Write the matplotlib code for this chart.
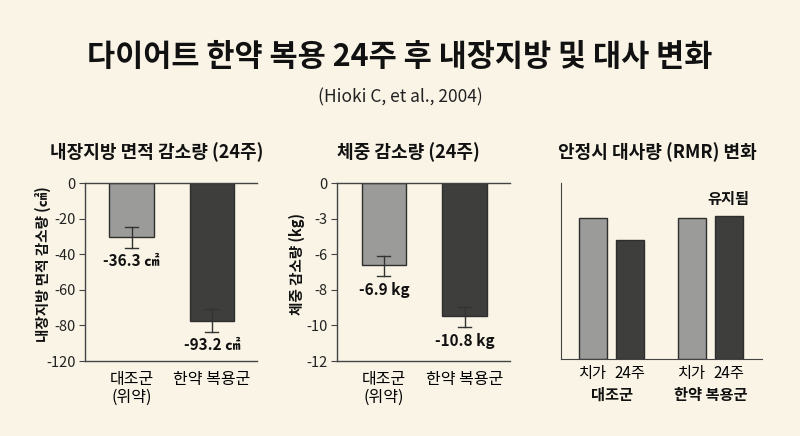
import matplotlib
matplotlib.use("Agg")
import matplotlib.pyplot as plt
import numpy as np

plt.rcParams['font.family'] = ['Noto Sans CJK KR', 'DejaVu Sans']

BG = '#f9f4e6'
LIGHT = '#9b9b99'
DARK = '#3e3e3c'
EDGE = '#2e2e2e'
AX = '#444444'

# 데이터
groups = ['대조군\n(위약)', '한약 복용군']
fat_bar = [-30.4, -77.3]          # 막대 높이 (축 단위)
fat_err_lo = [-36.4, -83.7]
fat_err_hi = [-24.6, -70.5]
fat_labels = ['-36.3 ㎠', '-93.2 ㎠']
fat_ticks = [0, -20, -40, -60, -80, -100]
fat_ticklabels = ['0', '-20', '-40', '-60', '-80', '-120']

wt_bar = [-6.9, -11.2]
wt_err_lo = [-7.8, -12.1]
wt_err_hi = [-6.1, -10.4]
wt_labels = ['-6.9 kg', '-10.8 kg']
wt_ticks = [0, -3, -6, -9, -12, -15]
wt_ticklabels = ['0', '-3', '-6', '-8', '-10', '-12']

rmr_groups = ['대조군', '한약 복용군']
rmr_times = ['치가', '24주']
rmr_vals = [[80.2, 67.4], [80.2, 81.3]]

fig = plt.figure(figsize=(8, 4.36), dpi=100)
fig.patch.set_facecolor(BG)

fig.text(0.5, 1 - 57/436, '다이어트 한약 복용 24주 후 내장지방 및 대사 변화',
         ha='center', va='center', fontsize=22, fontweight='black', color='#111111')
fig.text(0.5, 1 - 97/436, '(Hioki C, et al., 2004)', ha='center', va='center',
         fontsize=12.5, color='#222222')


def bar_panel(rect, vals, lo, hi, labels, ticks, ticklabels, ylabel, title, title_x,
              label_off, ylabel_x):
    ax = fig.add_axes(rect)
    ax.set_facecolor(BG)
    x = np.arange(len(vals))
    ax.bar(x, vals, width=0.55, color=[LIGHT, DARK], edgecolor=EDGE, linewidth=1)
    for i in range(len(vals)):
        ax.plot([x[i], x[i]], [lo[i], hi[i]], color='#333333', lw=1)
        for yy in (lo[i], hi[i]):
            ax.plot([x[i] - 0.08, x[i] + 0.08], [yy, yy], color='#333333', lw=1)
        ax.text(x[i], lo[i] - label_off, labels[i], ha='center', va='top',
                fontsize=11, fontweight='bold', color='#111111')
    ax.set_xlim(-0.576, 1.56)
    ax.set_ylim(ticks[-1], 0)
    ax.set_yticks(ticks)
    ax.set_yticklabels(ticklabels)
    ax.set_xticks(x)
    ax.set_xticklabels(groups, fontsize=11.5, fontweight='medium', linespacing=1.1)
    ax.tick_params(axis='x', length=0, pad=7)
    ax.tick_params(axis='y', labelsize=10.5, length=4, color=AX, pad=3, labelcolor='#222222')
    ax.spines['right'].set_visible(False)
    for s in ('left', 'top', 'bottom'):
        ax.spines[s].set_color(AX)
        ax.spines[s].set_linewidth(1)
    fig.text(ylabel_x, (rect[1] + rect[3] / 2) + 8/436, ylabel, rotation=90,
             ha='center', va='center', fontsize=10.5, fontweight='bold', color='#111111')
    fig.text(title_x, 1 - 152/436, title, ha='center', va='center',
             fontsize=13, fontweight='bold', color='#111111')
    return ax


bar_panel([85.3/800, 1 - 361/436, 171.4/800, 177.7/436], fat_bar, fat_err_lo, fat_err_hi,
          fat_labels, fat_ticks, fat_ticklabels, '내장지방 면적 감소량 (㎠)',
          '내장지방 면적 감소량 (24주)', 157/800, 3, 43/800)
bar_panel([337.3/800, 1 - 361/436, 172.7/800, 177.7/436], wt_bar, wt_err_lo, wt_err_hi,
          wt_labels, wt_ticks, wt_ticklabels, '체중 감소량 (kg)',
          '체중 감소량 (24주)', 408/800, 0.5, 297/800)

# RMR 패널
ax3 = fig.add_axes([560.7/800, 1 - 359.3/436, 201/800, 176.6/436])
ax3.set_facecolor(BG)
gap = 2.68
pos = []
for g, vals in enumerate(rmr_vals):
    for i, v in enumerate(vals):
        xx = g * gap + i
        pos.append(xx)
        ax3.bar(xx, v, width=0.755, color=[LIGHT, DARK][i], edgecolor=EDGE, linewidth=1)
ax3.set_xlim(-0.886, 4.576)
ax3.set_ylim(0, 100)
ax3.set_yticks([])
ax3.set_xticks(pos)
ax3.set_xticklabels(rmr_times * 2, fontsize=11)
ax3.tick_params(axis='x', length=0, pad=4)
for s in ('right', 'top'):
    ax3.spines[s].set_visible(False)
for s in ('left', 'bottom'):
    ax3.spines[s].set_color(AX)
ax3.text(pos[3], rmr_vals[1][1] + 5, '유지됨', ha='center', va='bottom',
         fontsize=11, fontweight='bold', color='#111111')
for g, name in enumerate(rmr_groups):
    ax3.text((pos[2*g] + pos[2*g+1]) / 2, -0.2, name, transform=ax3.get_xaxis_transform(),
             ha='center', va='center', fontsize=11, fontweight='bold', color='#111111')
fig.text(657/800, 1 - 152/436, '안정시 대사량 (RMR) 변화', ha='center', va='center',
         fontsize=13, fontweight='bold', color='#111111')

fig.savefig('out.png', dpi=100, facecolor=BG)
